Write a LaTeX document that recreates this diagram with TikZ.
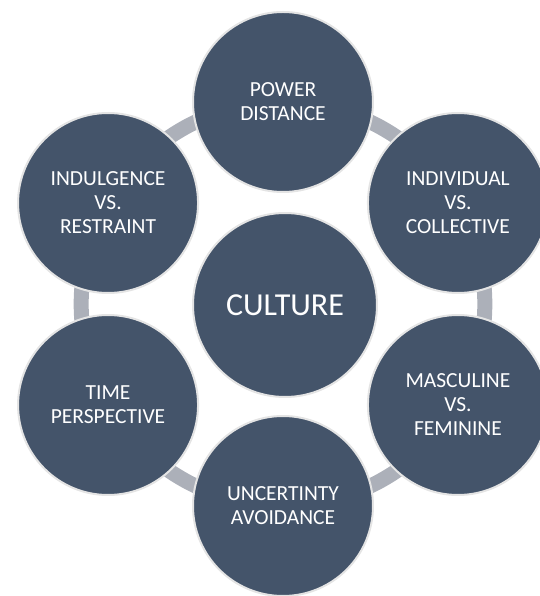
\documentclass[tikz,border=0pt]{standalone}
\usepackage{fontspec}
\setmainfont{Carlito}
\usetikzlibrary{backgrounds}
\definecolor{slate}{RGB}{68,84,106}
\definecolor{rimgray}{RGB}{228,228,228}
\definecolor{ringgray}{RGB}{172,176,185}

\begin{document}
\begin{tikzpicture}[x=1pt, y=1pt,
  factor/.style={circle, fill=slate, draw=rimgray, line width=2pt,
    minimum size=180pt, inner sep=0pt, align=center, text=white,
    font=\fontsize{21.5}{24}\selectfont},
  hub/.style={factor, minimum size=184pt, font=\fontsize{32}{36}\selectfont},
  ringlink/.style={ringgray, line width=15pt}]
  \useasboundingbox (-283,-292) rectangle (256,304);
  % centre
  \node[hub] (culture) at (2,-1) {CULTURE};
  % outer circles
  \node[factor] (pd)  at (90:202)  {POWER\\DISTANCE};
  \node[factor] (ivc) at (30:202)  {INDIVIDUAL\\VS.\\COLLECTIVE};
  \node[factor] (mvf) at (-30:202) {MASCULINE\\VS.\\FEMININE};
  \node[factor] (ua)  at (-90:202) {UNCERTINTY\\AVOIDANCE};
  \node[factor] (tp)  at (210:202) {TIME\\PERSPECTIVE};
  \node[factor] (ivr) at (150:202) {INDULGENCE\\VS.\\RESTRAINT};
  % ring behind the circles
  \begin{scope}[on background layer]
    \foreach \a/\b in {pd/ivc, ivc/mvf, mvf/ua, ua/tp, tp/ivr, ivr/pd}
      \draw[ringlink] (\a.center) to[bend left=30, looseness=0.91] (\b.center);
  \end{scope}
\end{tikzpicture}
\end{document}
